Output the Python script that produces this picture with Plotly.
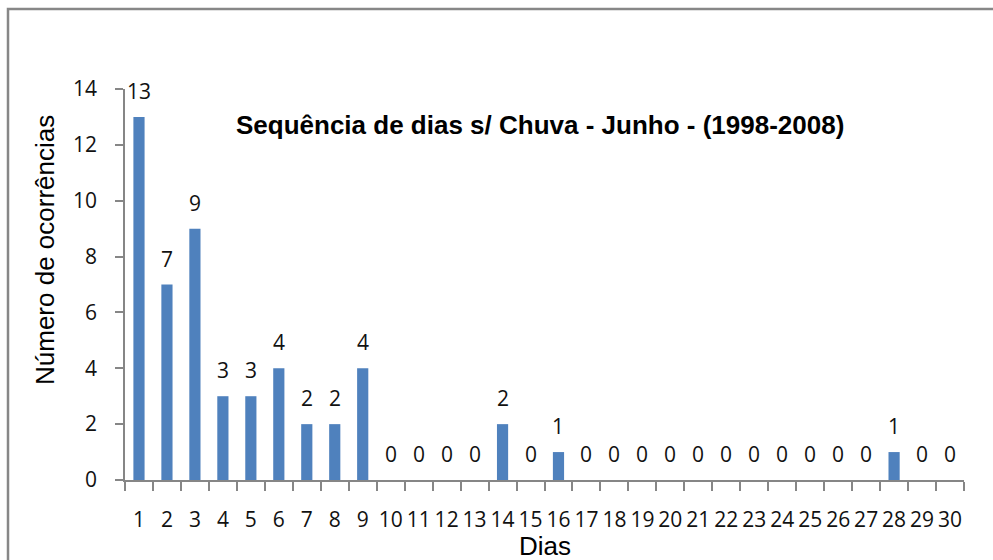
import plotly.graph_objects as go

dias = [str(i) for i in range(1, 31)]
ocorrencias = [13, 7, 9, 3, 3, 4, 2, 2, 4, 0, 0, 0, 0, 2, 0, 1, 0, 0, 0, 0,
               0, 0, 0, 0, 0, 0, 0, 1, 0, 0]
y_ticks = [0, 2, 4, 6, 8, 10, 12, 14]

titulo = "Sequência de dias s/ Chuva - Junho - (1998-2008)"
x_titulo = "Dias"
y_titulo = "Número de ocorrências"

W, H = 993, 560
L, R, T, B = 125, 29, 89, 80
pw, ph = W - L - R, H - T - B

axis_col = "#868686"
tick_font = dict(family="Open Sans, Liberation Sans, Arial", size=21, color="#111")
label_font = dict(family="Open Sans, Liberation Sans, Arial", size=21, color="#111")

fig = go.Figure()
fig.add_trace(go.Bar(x=dias, y=ocorrencias, marker=dict(color="#4F81BD", line=dict(width=0)),
                     hoverinfo="x+y"))

annotations = []
for i, v in enumerate(ocorrencias):
    annotations.append(dict(x=i, y=v, xref="x", yref="y", text=str(v), showarrow=False,
                            yshift=26, yanchor="middle", font=label_font))

annotations.append(dict(text="<b>" + titulo + "</b>", xref="paper", yref="paper", x=(540 - L) / pw,
                        y=1 + (T - 125) / ph, xanchor="center", yanchor="middle", showarrow=False,
                        font=dict(family="Liberation Sans, Arial", size=26, color="#000")))
annotations.append(dict(text=x_titulo, xref="paper", yref="paper", x=(545 - L) / pw,
                        y=(T + ph - 546) / ph, xanchor="center", yanchor="middle", showarrow=False,
                        font=dict(family="Liberation Sans, Arial", size=26, color="#000")))
annotations.append(dict(text=y_titulo, xref="paper", yref="paper", x=(45 - L) / pw,
                        y=(T + ph - 250) / ph, xanchor="center", yanchor="middle", showarrow=False,
                        textangle=-90,
                        font=dict(family="Liberation Sans, Arial", size=26, color="#000")))

shapes = [dict(type="rect", xref="paper", yref="paper",
               x0=(8 - L) / pw, x1=(1005 - L) / pw,
               y0=(T + ph - 575) / ph, y1=(T + ph - 9) / ph,
               line=dict(color="#878787", width=2.5), fillcolor="rgba(0,0,0,0)", layer="below")]

fig.update_layout(
    width=W, height=H,
    margin=dict(l=L, r=R, t=T, b=B, autoexpand=False),
    paper_bgcolor="white", plot_bgcolor="white",
    bargap=0.6, showlegend=False,
    annotations=annotations, shapes=shapes,
)
fig.update_xaxes(type="category", showline=True, linecolor=axis_col, linewidth=1.5,
                 ticks="outside", tickson="boundaries", ticklen=9, tickcolor=axis_col, tickwidth=1.5,
                 tickfont=tick_font, tickangle=0, ticklabelstandoff=20, showgrid=False, zeroline=False,
                 range=[-0.5, 29.5])
fig.update_yaxes(range=[0, 14], tickvals=y_ticks, showline=True, linecolor=axis_col, linewidth=1.5,
                 ticks="outside", ticklen=8, tickcolor=axis_col, tickwidth=1.5,
                 tickfont=tick_font, ticklabelstandoff=14, showgrid=False, zeroline=False)

fig.write_html("out.html", config={"displayModeBar": False},
               post_script="document.body.style.margin='0';document.body.style.overflow='hidden';")
